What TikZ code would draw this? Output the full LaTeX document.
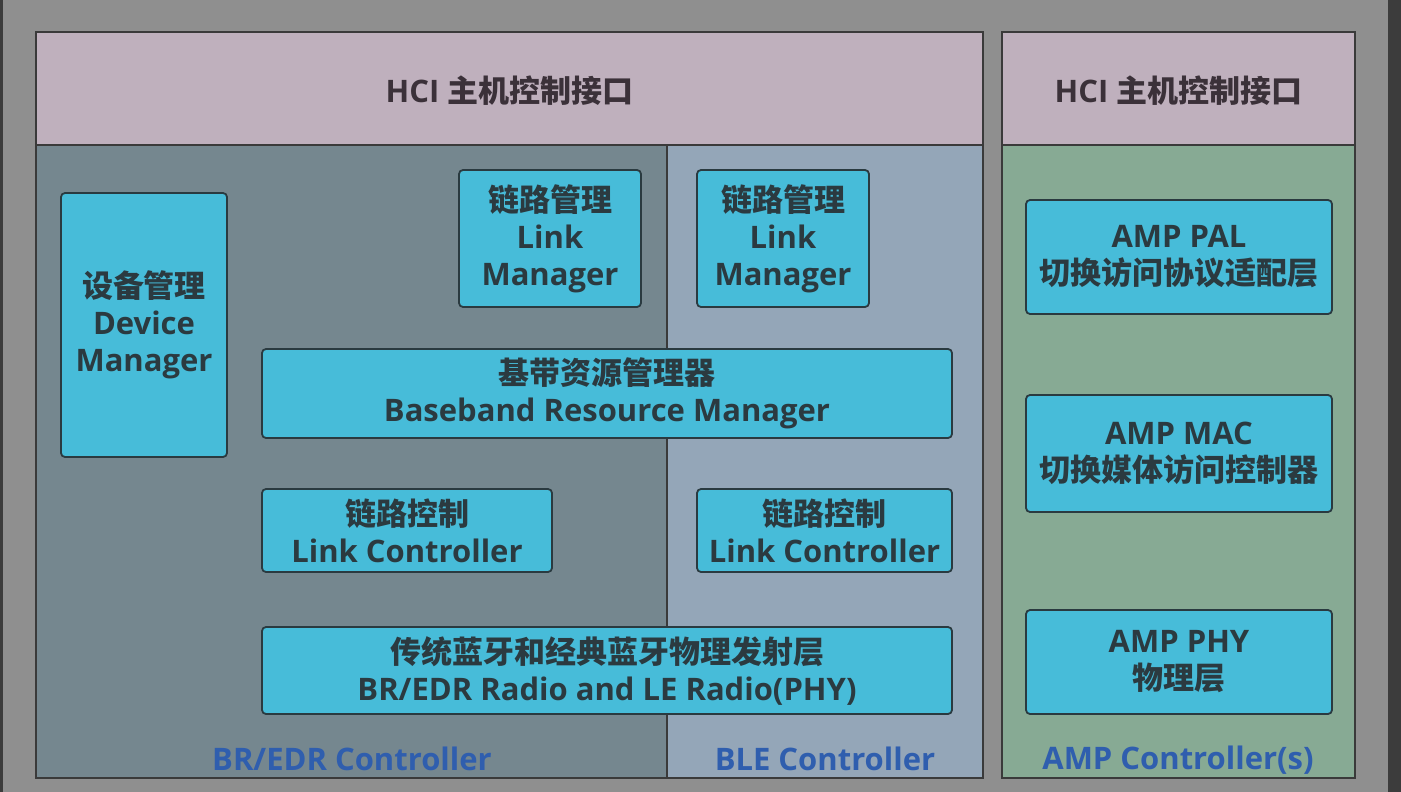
\documentclass[tikz,border=0pt]{standalone}
\usepackage{fontspec}
\setmainfont{Open Sans}
\newfontfamily\cjk{Noto Sans CJK SC}
\definecolor{bgray}{HTML}{8F8F8F}
\definecolor{dstrip}{HTML}{3C3C3C}
\definecolor{hcipink}{HTML}{BFB0BD}
\definecolor{bredrc}{HTML}{75878F}
\definecolor{blec}{HTML}{94A6B8}
\definecolor{ampc}{HTML}{87AA94}
\definecolor{boxc}{HTML}{47BCD9}
\definecolor{boxline}{HTML}{2A3A40}
\definecolor{txtc}{HTML}{2B3A40}
\definecolor{hcitxt}{HTML}{3B3139}
\definecolor{lblue}{HTML}{2F5EAE}
\definecolor{frame}{HTML}{3A3A3A}
\tikzset{
  region/.style={draw=frame, line width=1.8pt, inner sep=0pt, outer sep=0pt},
  box/.style={draw=boxline, fill=boxc, line width=1.8pt, rounded corners=4pt,
    align=center, text=txtc, font=\bfseries\fontsize{31}{37}\selectfont, inner sep=0pt},
  hcitext/.style={text=hcitxt, font=\bfseries\fontsize{31}{37}\selectfont},
  ctrl/.style={text=lblue, font=\bfseries\fontsize{31}{35}\selectfont, anchor=base}
}
\begin{document}
\begin{tikzpicture}[x=1pt,y=-1pt]
\useasboundingbox (0,0) rectangle (1401,792);
% background
\fill[bgray] (0,0) rectangle (1401,792);
\fill[dstrip] (0,0) rectangle (3,792);
\fill[dstrip] (1388,0) rectangle (1401,792);
% regions
\node[region, fill=bredrc, minimum width=631pt, minimum height=633pt, anchor=north west] (bredr) at (36,145) {};
\node[region, fill=blec, minimum width=316pt, minimum height=633pt, anchor=north west] (ble) at (667,145) {};
\node[region, fill=hcipink, minimum width=947pt, minimum height=113pt, anchor=north west] (hci1) at (36,32) {};
\node[region, fill=ampc, minimum width=353pt, minimum height=633pt, anchor=north west] (amp) at (1002,145) {};
\node[region, fill=hcipink, minimum width=353pt, minimum height=113pt, anchor=north west] (hci2) at (1002,32) {};
\node[hcitext] (hci1t) at ([yshift=-2pt]hci1.center) {HCI {\cjk 主机控制接口}};
\node[hcitext] (hci2t) at ([yshift=-2pt]hci2.center) {HCI {\cjk 主机控制接口}};
% BR/EDR + BLE boxes
\node[box, minimum width=166pt, minimum height=264pt] (dm) at (144,325) {{\cjk 设备管理}\\Device\\Manager};
\node[box, minimum width=182pt, minimum height=137pt] (lm1) at (550,238.5) {{\cjk 链路管理}\\Link\\Manager};
\node[box, minimum width=172pt, minimum height=137pt] (lm2) at (783,238.5) {{\cjk 链路管理}\\Link\\Manager};
\node[box, minimum width=690pt, minimum height=89pt] (bb) at (607,393.5) {{\cjk 基带资源管理器}\\Baseband Resource Manager};
\node[box, minimum width=290pt, minimum height=83pt] (lc1) at (407,530.5) {{\cjk 链路控制}\\Link Controller};
\node[box, minimum width=255pt, minimum height=83pt] (lc2) at (824.5,530.5) {{\cjk 链路控制}\\Link Controller};
\node[box, minimum width=690pt, minimum height=87pt] (phy) at (607,670.5) {{\cjk 传统蓝牙和经典蓝牙物理发射层}\\BR/EDR Radio and LE Radio(PHY)};
% AMP boxes
\node[box, minimum width=306pt, minimum height=114pt] (pal) at (1179,257) {AMP PAL\\{\cjk 切换访问协议适配层}};
\node[box, minimum width=306pt, minimum height=117pt] (mac) at (1179,453.5) {AMP MAC\\{\cjk 切换媒体访问控制器}};
\node[box, minimum width=306pt, minimum height=104pt] (aphy) at (1179,662) {AMP PHY\\{\cjk 物理层}};
% controller labels
\node[ctrl] (l1) at (352,770) {BR/EDR Controller};
\node[ctrl] (l2) at (825,770) {BLE Controller};
\node[ctrl] (l3) at (1178,769) {AMP Controller(s)};
\end{tikzpicture}
\end{document}
